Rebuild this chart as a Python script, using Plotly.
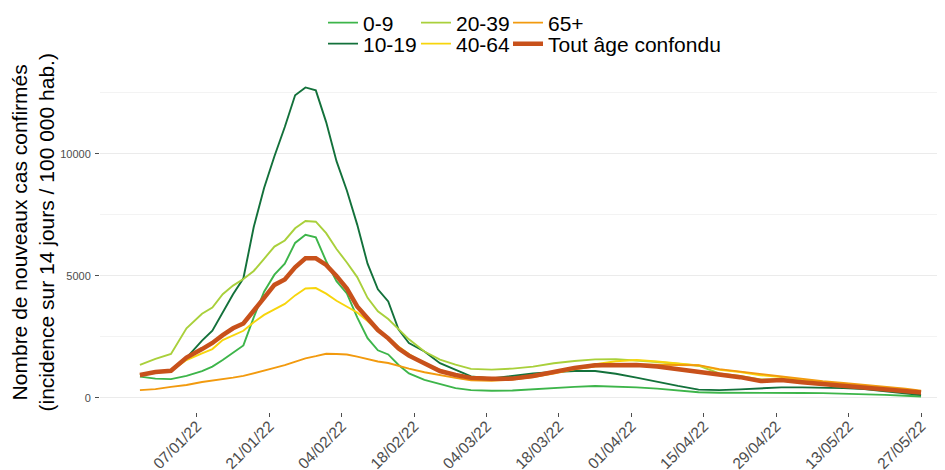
import plotly.graph_objects as go
import pandas as pd

# ---- data ----
day_index = [0, 3, 6, 9, 12, 14, 16, 18, 20, 22, 24, 26, 28, 30, 32, 34, 36, 38, 40, 42, 44, 46, 48, 50, 52,
             55, 58, 61, 64, 68, 72, 76, 80, 84, 88, 92, 96, 100, 104, 108, 112, 116, 120, 124, 128, 132,
             136, 140, 144, 148, 151]
dates = [pd.Timestamp("2021-12-27") + pd.Timedelta(days=d) for d in day_index]

age_0_9 = [870, 790, 770, 900, 1100, 1280, 1550, 1850, 2150, 3300, 4350, 5050, 5500, 6350, 6680, 6580, 5600,
           4780, 4280, 3300, 2450, 1950, 1780, 1350, 1000, 740, 560, 400, 320, 290, 300, 340, 400, 450, 490,
           470, 430, 380, 310, 230, 210, 215, 220, 210, 200, 195, 180, 160, 125, 90, 60]
age_10_19 = [940, 1050, 1130, 1640, 2350, 2750, 3500, 4250, 4900, 7000, 8600, 9900, 11100, 12400, 12720,
             12600, 11300, 9700, 8500, 7100, 5500, 4450, 3950, 2800, 2250, 1900, 1420, 1160, 880, 800, 900,
             1000, 1060, 1100, 1100, 990, 830, 650, 490, 340, 320, 350, 390, 430, 430, 420, 400, 360, 280,
             190, 120]
age_20_39 = [1350, 1600, 1800, 2850, 3450, 3700, 4250, 4600, 4870, 5200, 5700, 6200, 6450, 6950, 7250, 7220,
             6750, 6100, 5550, 4950, 4100, 3550, 3230, 2800, 2400, 1900, 1570, 1360, 1190, 1160, 1200, 1280,
             1420, 1510, 1580, 1590, 1540, 1470, 1400, 1320, 1000, 900, 760, 760, 680, 600, 540, 470, 390,
             310, 240]
age_40_64 = [950, 1050, 1100, 1550, 1820, 2000, 2370, 2550, 2750, 3100, 3400, 3630, 3850, 4200, 4480, 4500,
             4270, 3980, 3750, 3500, 3150, 2750, 2470, 2100, 1800, 1420, 1150, 950, 820, 760, 780, 880, 1050,
             1220, 1380, 1500, 1550, 1490, 1420, 1330, 1150, 1060, 930, 850, 730, 650, 580, 500, 420, 340,
             270]
age_65 = [320, 360, 450, 530, 650, 700, 760, 830, 900, 1020, 1130, 1230, 1340, 1470, 1620, 1710, 1810, 1800,
          1780, 1690, 1590, 1490, 1430, 1300, 1200, 1050, 920, 820, 720, 700, 750, 850, 1000, 1170, 1280,
          1350, 1370, 1360, 1340, 1340, 1180, 1080, 990, 870, 780, 680, 610, 540, 460, 380, 300]
all_ages = [940, 1060, 1110, 1650, 2000, 2250, 2570, 2850, 3050, 3550, 4100, 4630, 4850, 5350, 5720, 5720,
            5450, 5000, 4480, 3750, 3250, 2780, 2440, 2020, 1730, 1420, 1100, 940, 820, 780, 790, 900, 1080,
            1230, 1340, 1360, 1350, 1290, 1180, 1080, 950, 850, 690, 730, 640, 570, 520, 450, 360, 280, 220]

series_names = ["0-9", "10-19", "20-39", "40-64", "65+", "Tout âge confondu"]
series_values = [age_0_9, age_10_19, age_20_39, age_40_64, age_65, all_ages]
series_colors = ["#3db54a", "#13713b", "#a9d03b", "#f7d50c", "#f29a0e", "#c8511b"]
series_widths = [1.9, 1.9, 1.9, 1.9, 1.9, 4.5]

tick_dates = ["2022-01-07", "2022-01-21", "2022-02-04", "2022-02-18", "2022-03-04", "2022-03-18",
              "2022-04-01", "2022-04-15", "2022-04-29", "2022-05-13", "2022-05-27"]
tick_labels = ["07/01/22", "21/01/22", "04/02/22", "18/02/22", "04/03/22", "18/03/22",
               "01/04/22", "15/04/22", "29/04/22", "13/05/22", "27/05/22"]
y_ticks = [0, 5000, 10000]
y_minor = [2500, 7500, 12500]

y_title = "Nombre de nouveaux cas confirmés<br>(incidence sur 14 jours / 100 000 hab.)"

FONT = "Liberation Sans, Arial, Helvetica, sans-serif"
W, H = 945, 470

# legend grid (3 columns x 2 rows, filled column-wise like the original)
legend_cols = [315, 408, 500]
legend_rows = [15, 36]
legend_ids = ["legend", "legend2", "legend3", "legend4", "legend5", "legend6"]

fig = go.Figure()
legend_layout = {}
for k, (name, vals, col, w) in enumerate(zip(series_names, series_values, series_colors, series_widths)):
    lid = legend_ids[k]
    fig.add_trace(go.Scatter(x=dates, y=vals, mode="lines", name=name,
                             line=dict(color=col, width=w), legend=lid))
    legend_layout[lid] = dict(
        orientation="v", font=dict(family=FONT, size=21, color="black"),
        bgcolor="rgba(0,0,0,0)", xref="container", yref="container",
        x=legend_cols[k // 2] / W, y=1 - legend_rows[k % 2] / H,
        xanchor="left", yanchor="middle", itemwidth=30)

fig.update_layout(
    width=W, height=H,
    margin=dict(l=92, r=8, t=64, b=66, autoexpand=False),
    plot_bgcolor="white", paper_bgcolor="white",
    font=dict(family=FONT),
    showlegend=True,
    **legend_layout,
    xaxis=dict(
        type="date",
        range=["2021-12-19 06:43", "2022-05-31 15:07"],
        tickvals=tick_dates, ticktext=tick_labels, tickangle=-45,
        tickfont=dict(family=FONT, size=15.5, color="#4d4d4d"),
        ticks="outside", ticklen=4, tickcolor="#4d4d4d", tickwidth=1,
        ticklabelstandoff=-6,
        showgrid=False, zeroline=False, showline=False, automargin=False,
    ),
    yaxis=dict(
        range=[-578, 13353],
        tickvals=y_ticks, ticktext=[str(v) for v in y_ticks],
        tickfont=dict(family=FONT, size=11, color="#4d4d4d"),
        ticks="outside", ticklen=4, tickcolor="#4d4d4d", tickwidth=1,
        ticklabelstandoff=2,
        showgrid=True, gridcolor="#ebebeb", gridwidth=1,
        minor=dict(tickvals=y_minor, showgrid=True, gridcolor="#f3f3f3", gridwidth=0.8, ticks=""),
        zeroline=False, showline=False, automargin=False,
    ),
    annotations=[dict(text=y_title, textangle=-90, xref="paper", yref="paper", x=0, y=(404 - 225) / 340,
                      xanchor="center", yanchor="middle", xshift=-67.5, showarrow=False,
                      font=dict(family=FONT, size=21, color="black"))],
)

fig.write_html("out.html")
